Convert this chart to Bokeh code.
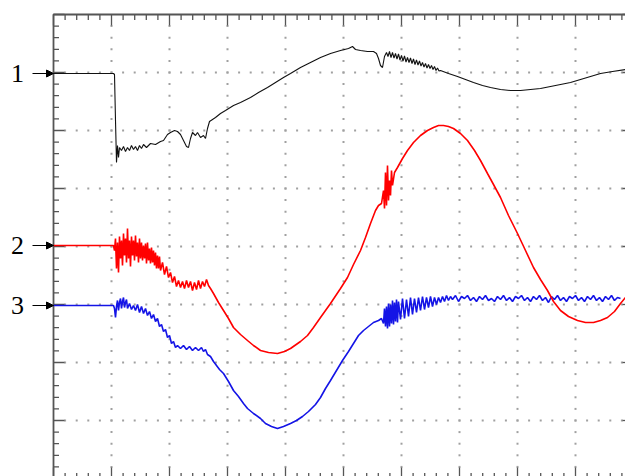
from bokeh.plotting import figure
from bokeh.models import Range1d, Arrow, NormalHead
from bokeh.core.properties import value
from bokeh.embed import file_html
from bokeh.resources import INLINE

# ---- scope geometry (arbitrary units: 58 units per division) ----
DIV = 58.0
NX, NY = 10, 8
SUB = 5

# ---- channel reference markers ----
ch_labels = ["1", "2", "3"]
ch_levels = [405, 233, 173]

# ---- channel 1 (black) ----
t1 = [0, 60, 61, 62, 63, 64, 65, 66, 68, 70, 72, 74, 76, 78, 80, 82, 84, 86, 88, 90, 93, 97, 102, 107, 110,
      114, 117, 121, 124, 127, 130, 133, 135, 137, 139, 142, 144, 147, 150, 152, 154, 156, 159, 162, 167, 172,
      180, 187, 197, 205, 214, 222, 230, 237, 247, 257, 267, 277, 287, 295, 299, 302, 307, 314, 320, 323, 325,
      327, 329, 331,
      333, 334.5, 336, 337.5, 339, 340.5, 342, 343.5, 345, 346.5, 348, 349.5, 351, 352.5, 354, 355.5, 357,
      358.5, 360, 361.5, 363, 364.5, 366, 367.5, 369, 370.5, 372, 373.5, 375, 376.5, 378, 379.5, 381, 382.5,
      384, 385.5, 387, 395,
      404, 412, 420, 429, 437, 447, 457, 467, 477, 487, 497, 507, 517, 527, 537, 547, 559, 572]
v1 = [405, 405, 404, 358, 316, 333, 321, 331, 328, 332, 327, 331, 328, 333, 329, 332, 328, 333, 330, 334, 331,
      335, 334, 337, 338, 344, 346, 348, 347, 344, 338, 332, 331, 340, 346, 343, 346, 341, 343, 340, 350, 357,
      359, 361, 365, 368, 373, 376, 381, 386, 391, 396, 401, 405, 411, 416, 421, 425, 428, 430, 432, 429, 428,
      427, 427, 425, 420, 413, 411, 422,
      426, 422, 427, 421, 426, 420.5, 425, 419.5, 424.5, 418.5, 423, 417.5, 422.5, 416.5, 421, 416, 420.5,
      415, 419.5, 414, 418.5, 413.5, 417.5, 412.5, 416, 411.5, 415, 410.5, 414, 410, 413, 409, 412, 408,
      410.5, 407.5, 408, 405,
      402, 399, 396, 393, 391, 389, 388, 388, 389, 390, 392, 394, 396, 399, 402, 405, 407, 409]

# ---- channel 2 (red) ----
t2 = [0, 60, 61, 62, 63, 64, 65, 66, 67, 68, 69, 70, 71, 72, 73, 74, 75, 76, 77, 78, 79, 80, 81, 82, 83, 84,
      85, 86, 87, 88, 89, 90, 91, 92, 93, 94, 95, 96, 97, 98, 99, 100, 101, 102, 103, 104, 105, 106, 107, 109,
      111, 113, 115, 117, 119, 121, 123, 125, 127, 129, 131, 133, 135, 137, 139, 141, 143, 145, 147, 149, 151,
      153, 155, 157, 160, 165, 170, 175, 180, 187, 194, 200, 207, 215, 224, 231, 237, 247, 254, 260, 267, 277,
      287, 294, 300, 307, 312, 317, 322, 325, 328, 330, 331, 332, 333, 334, 335, 336, 337, 338, 339, 341, 344,
      349, 354, 360, 367, 374, 380, 385, 390, 395, 400, 407, 414, 421, 427, 434, 440, 447, 455, 464, 472, 480,
      487, 494, 500, 507, 515, 524, 532, 540, 547, 554, 561, 567, 572]
v2 = [233, 233, 228, 240, 210, 236, 206, 242, 220, 238, 213, 245, 223, 240, 216, 250, 220, 238, 212, 242, 223,
      238, 218, 243, 222, 236, 216, 240, 220, 236, 218, 233, 220, 235, 215, 236, 218, 230, 215, 231, 216, 228,
      213, 226, 210, 223, 210, 222, 208, 216, 204, 212, 201, 206, 196, 202, 192, 198, 191, 197, 190, 198, 191,
      197, 188, 196, 189, 198, 190, 197, 192, 199, 193, 190, 185, 176, 168, 160, 151, 144, 138, 133, 128, 126,
      125, 127, 130, 137, 143, 151, 161, 175, 190, 201, 214, 228, 241, 255, 268, 273, 275, 288, 270, 306, 273,
      313, 278, 298, 283, 308, 293, 306, 311, 320, 328, 336, 343, 348, 351, 353, 353, 352, 350, 345, 338, 328,
      318, 305, 294, 281, 263, 245, 228, 211, 199, 188, 177, 168, 162, 158, 156, 156, 158, 161, 167, 175, 181]

# ---- channel 3 (blue) ----
t3 = [0, 60, 61, 62, 63, 64, 65, 66, 67, 68, 69, 70, 71, 72, 73, 74, 76, 78, 80, 82, 84, 86, 88, 90, 92, 94,
      96, 98, 100, 102, 104, 106, 108, 110, 112, 114, 116, 118, 120, 122, 124, 127, 130, 133, 136, 139, 142,
      145, 148, 150, 152, 154, 157, 160, 163, 166, 170, 175, 180, 185, 190, 194, 200, 207, 212, 218, 224, 230,
      237, 243, 249, 255, 262, 267, 272, 277, 283, 289, 295, 300, 305, 310, 315, 320, 325, 328, 330, 331, 332,
      333, 334, 335, 336, 337, 338, 339, 340, 341, 342, 343, 344, 345, 347, 349, 351, 353, 355, 357, 359, 361,
      363, 365, 367, 369, 371, 373, 375, 377, 379, 381, 383, 385, 387, 389, 391, 393, 395, 397, 399, 402, 405,
      408, 411, 414, 417, 420, 423, 426, 429, 432, 435, 438, 441, 444, 447, 450, 453, 456, 459, 462, 465, 468,
      471, 474, 477, 480, 483, 486, 489, 492, 495, 498, 501, 504, 507, 510, 513, 516, 519, 522, 525, 528, 531,
      534, 537, 540, 543, 546, 549, 552, 555, 558, 561, 564, 567, 572]
v3 = [173, 173, 170, 161, 172, 178, 168, 176, 180, 170, 177, 181, 171, 176, 179, 170, 175, 169, 173, 168, 174,
      166, 172, 165, 170, 163, 167, 160, 164, 157, 160, 152, 154, 147, 149, 141, 143, 135, 137, 131, 133, 130,
      133, 129, 132, 128, 131, 128, 131, 127, 129, 124, 122, 117, 113, 109, 105, 97, 88, 82, 75, 70, 65, 60, 55,
      52, 50, 52, 55, 58, 62, 67, 74, 81, 90, 98, 108, 118, 127, 135, 143, 148, 152, 156, 158, 160, 155, 170,
      152, 172, 150, 175, 152, 174, 155, 178, 154, 176, 157, 179, 156, 177, 159, 180, 160, 179, 162, 181, 164,
      180, 166, 181, 168, 182, 169, 181, 171, 182, 172, 181, 174, 181, 176, 182, 177, 183, 178, 182, 179, 183,
      177, 182, 180, 183, 178, 181, 177, 182, 179, 183, 178, 180, 177, 182, 179, 183, 178, 181, 177, 182, 180,
      183, 178, 181, 177, 182, 179, 183, 178, 181, 176, 182, 179, 183, 178, 181, 177, 182, 180, 183, 178, 181,
      177, 182, 179, 183, 178, 181, 177, 182, 179, 183, 178, 181, 180]

W, H = 625, 476
x0 = -53
y_top = 478
p = figure(width=W, height=H, x_range=Range1d(x0, x0 + W), y_range=Range1d(y_top - H, y_top),
           output_backend="svg", toolbar_location=None, x_axis_location=None, y_axis_location=None,
           min_border=0)
p.grid.visible = False
p.outline_line_color = None
p.background_fill_color = "white"
p.border_fill_color = "white"

XW, YH = NX * DIV, NY * DIV
step = DIV / SUB

# grid dots
gx, gy = [], []
for i in range(1, NX):
    for k in range(1, NY * SUB):
        gx.append(i * DIV)
        gy.append(k * step)
for j in range(1, NY):
    for k in range(1, NX * SUB):
        gx.append(k * step)
        gy.append(j * DIV)
p.scatter(gx, gy, marker="square", size=2, color="#a0a0a0", line_color=None)

# ticks on the frame
sx0, sy0, sx1, sy1 = [], [], [], []
for k in range(0, NY * SUB + 1):
    L = 11 if k % SUB == 0 else 5.5
    y = k * step
    sx0 += [0, XW]; sx1 += [L, XW - L]; sy0 += [y, y]; sy1 += [y, y]
for k in range(0, NX * SUB + 1):
    L = 11 if k % SUB == 0 else 5.5
    x = k * step
    sx0 += [x, x]; sx1 += [x, x]; sy0 += [YH, 0]; sy1 += [YH - L, L]
p.segment(sx0, sy0, sx1, sy1, line_color="#555555", line_width=1.3)
p.line([0, 0, XW, XW, 0], [0, YH, YH, 0, 0], line_color="#555555", line_width=1.8)

# traces
p.line(t3, v3, line_color="#1414e6", line_width=1.6)
p.line(t2, v2, line_color="#ff0000", line_width=1.6)
p.line(t1, v1, line_color="#111111", line_width=1.1)

# channel markers
p.text(x=[-36] * 3, y=ch_levels, text=ch_labels, text_font=value("Liberation Serif"),
       text_font_size="26px", text_align="center", text_baseline="middle", text_color="black")
for lvl in ch_levels:
    p.add_layout(Arrow(end=NormalHead(size=7, fill_color="black", line_color="black"),
                       x_start=-21, y_start=lvl, x_end=0, y_end=lvl,
                       line_color="black", line_width=1))

open("out.html", "w").write(file_html(p, INLINE))
